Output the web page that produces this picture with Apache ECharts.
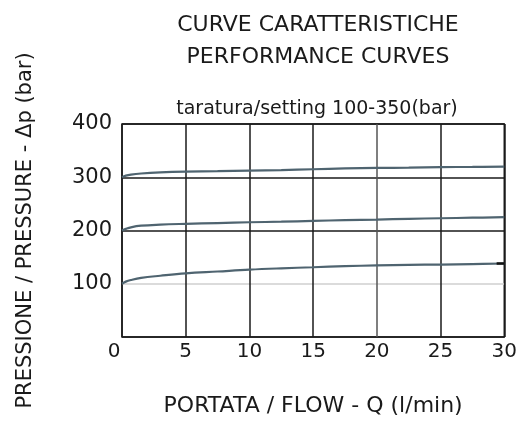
<!DOCTYPE html>
<html><head><meta charset="utf-8">
<script src="https://cdn.jsdelivr.net/npm/echarts@6/dist/echarts.min.js"></script>
<style>html,body{margin:0;padding:0;background:#fff}#c{width:520px;height:422px}</style>
</head><body><div id="c"></div>
<script>
const titleLines = ['CURVE CARATTERISTICHE', 'PERFORMANCE CURVES'];
const subtitle = 'taratura/setting 100-350(bar)';
const xName = 'PORTATA / FLOW - Q (l/min)';
const yName = 'PRESSIONE / PRESSURE - \u0394p (bar)';
const flow = [0, 0.3, 0.7, 1.5, 3, 5, 7.5, 10, 12.5, 15, 17.5, 20, 22.5, 25, 27.5, 30];
const curve300 = [300, 303, 305, 307, 309, 310.5, 311.5, 312.5, 313.5, 315, 316.5, 317.5, 318, 319, 319.5, 320];
const curve200 = [200, 203, 206, 209, 211, 212.5, 214, 215.5, 216.5, 218, 219.5, 220.5, 222, 223, 224, 225];
const curve100 = [100, 104, 107, 111, 115, 119.5, 123, 126.5, 129, 131, 133, 134.5, 135.5, 136, 137, 138];
const endMark = [[29.4, 138], [30, 138]];

const pair = (ys) => flow.map((x, i) => [x, ys[i]]);
const lineColor = '#4f6470';
const font = "'DejaVu Sans', 'Open Sans', sans-serif";
const txt = '#1a1a1a';

const chart = echarts.init(document.getElementById('c'), null, {renderer: 'canvas'});
chart.setOption({
  animation: false,
  title: [
    {text: titleLines.join('\n'), left: 313, top: 4, textAlign: 'center',
     textStyle: {fontFamily: font, fontSize: 22, fontWeight: 'normal', color: txt, lineHeight: 32}},
    {text: subtitle, left: 312, top: 95, textAlign: 'center',
     textStyle: {fontFamily: font, fontSize: 19, fontWeight: 'normal', color: txt}}
  ],
  grid: {left: 122, right: 15, top: 124, bottom: 85, show: true, borderColor: txt, borderWidth: 1.5},
  xAxis: {
    type: 'value', min: 0, max: 30, interval: 5,
    name: xName, nameLocation: 'middle', nameGap: 58,
    nameTextStyle: {fontFamily: font, fontSize: 22, color: txt},
    axisLine: {show: false}, axisTick: {show: false},
    axisLabel: {fontFamily: font, fontSize: 20, color: txt, margin: 5,
      formatter: v => v === 0 ? '{z|0}' : String(v),
      rich: {z: {fontFamily: font, fontSize: 20, color: txt, padding: [0, 16, 9, 0]}}},
    splitLine: {show: true, lineStyle: {width: 1.5, color: [txt, txt, txt, txt, '#555', txt, txt]}}
  },
  yAxis: {
    type: 'value', min: 0, max: 400, interval: 100,
    name: yName, nameLocation: 'middle', nameGap: 86,
    nameTextStyle: {fontFamily: font, fontSize: 21, color: txt},
    axisLine: {show: false}, axisTick: {show: false},
    axisLabel: {fontFamily: font, fontSize: 21, color: txt, margin: 10,
      formatter: v => v === 0 ? '' : String(v)},
    splitLine: {show: true, lineStyle: {width: 1.5, color: [txt, '#cfcfcf', txt, txt, txt]}}
  },
  series: [
    {type: 'line', data: pair(curve300), smooth: 0.4, showSymbol: false, lineStyle: {color: lineColor, width: 2.2}},
    {type: 'line', data: pair(curve200), smooth: 0.4, showSymbol: false, lineStyle: {color: lineColor, width: 2.2}},
    {type: 'line', data: pair(curve100), smooth: 0.4, showSymbol: false, lineStyle: {color: lineColor, width: 2.2}},
    {type: 'line', data: endMark, showSymbol: false, lineStyle: {color: '#111', width: 2.5}}
  ]
});
</script></body></html>
